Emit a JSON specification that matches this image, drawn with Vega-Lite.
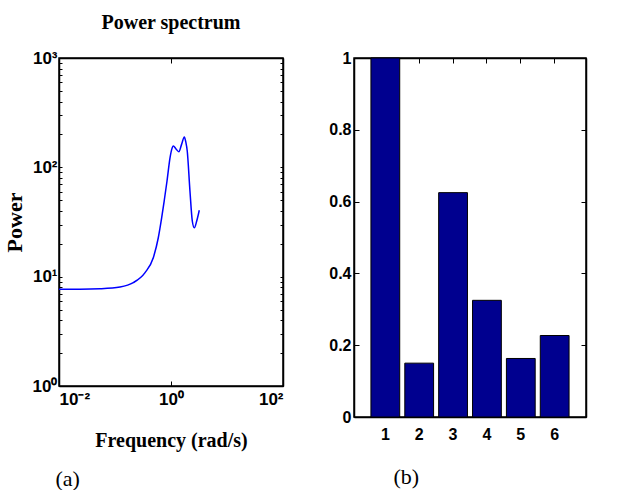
{
  "$schema": "https://vega.github.io/schema/vega-lite/v6.json",
  "background": "white",
  "padding": {"left": 2, "top": 12, "right": 0, "bottom": 0},
  "spacing": 43,
  "config": {
    "view": {"stroke": "black", "strokeWidth": 1.5},
    "axis": {
      "domainColor": "black", "domainWidth": 1.5, "tickColor": "black", "tickWidth": 1,
      "grid": false, "labelFont": "Liberation Sans", "labelFontWeight": "bold", "labelFontSize": 16,
      "labelColor": "black", "titleColor": "black"
    }
  },
  "datasets": {
    "spectrum": [
      {"f": 0.01, "P": 7.66}, {"f": 0.0237, "P": 7.67}, {"f": 0.054, "P": 7.75},
      {"f": 0.123, "P": 8.04}, {"f": 0.212, "P": 8.81}, {"f": 0.344, "P": 10.9},
      {"f": 0.483, "P": 14.9}, {"f": 0.593, "P": 22.7}, {"f": 0.682, "P": 34.6},
      {"f": 0.759, "P": 50}, {"f": 0.849, "P": 75}, {"f": 0.96, "P": 122},
      {"f": 1.03, "P": 146}, {"f": 1.10, "P": 157}, {"f": 1.22, "P": 148},
      {"f": 1.38, "P": 139}, {"f": 1.55, "P": 163}, {"f": 1.73, "P": 189},
      {"f": 1.84, "P": 170}, {"f": 1.95, "P": 141}, {"f": 2.18, "P": 60.8},
      {"f": 2.40, "P": 32.3}, {"f": 2.61, "P": 28.0}, {"f": 2.88, "P": 32.3},
      {"f": 3.20, "P": 40.5}
    ],
    "weights": [
      {"k": 1, "w": 1.0}, {"k": 2, "w": 0.150}, {"k": 3, "w": 0.625},
      {"k": 4, "w": 0.325}, {"k": 5, "w": 0.163}, {"k": 6, "w": 0.227}
    ]
  },
  "hconcat": [
    {
      "width": 224, "height": 328,
      "title": {"text": "Power spectrum", "font": "Liberation Serif", "fontSize": 20, "fontWeight": "bold", "color": "black", "offset": 16},
      "data": {"name": "spectrum"},
      "layer": [
        {
          "mark": {"type": "line", "color": "#0000ff", "strokeWidth": 1.5, "interpolate": "monotone"},
          "encoding": {
            "x": {"field": "f", "type": "quantitative",
              "scale": {"type": "log", "domain": [0.01, 100]},
              "axis": {"orient": "bottom", "values": [0.01, 1, 100], "tickSize": -5,
                "labelExpr": "datum.value < 0.1 ? '10⁻²' : datum.value < 10 ? '10⁰' : '10²'",
                "labelPadding": 10, "labelFontSize": 17,
                "title": "Frequency (rad/s)", "titleFont": "Liberation Serif", "titleFontSize": 20, "titleFontWeight": "bold", "titlePadding": 23}},
            "y": {"field": "P", "type": "quantitative",
              "scale": {"type": "log", "domain": [1, 1000]},
              "axis": {"orient": "left", "tickSize": -3,
                "values": [1,2,3,4,5,6,7,8,9,10,20,30,40,50,60,70,80,90,100,200,300,400,500,600,700,800,900,1000],
                "labelExpr": "datum.value == 1 ? '10⁰' : datum.value == 10 ? '10¹' : datum.value == 100 ? '10²' : datum.value == 1000 ? '10³' : ''",
                "labelPadding": 5, "labelFontSize": 17,
                "title": "Power", "titleFont": "Liberation Serif", "titleFontSize": 22, "titleFontWeight": "bold", "titlePadding": 6}}
          }
        },
        {
          "mark": {"type": "line", "strokeOpacity": 0},
          "encoding": {
            "x": {"field": "f", "type": "quantitative",
              "axis": {"orient": "top", "values": [0.01, 1, 100], "tickSize": -5, "labels": false, "title": null}},
            "y": {"field": "P", "type": "quantitative",
              "axis": {"orient": "right", "tickSize": -3, "labels": false, "title": null,
                "values": [1,2,3,4,5,6,7,8,9,10,20,30,40,50,60,70,80,90,100,200,300,400,500,600,700,800,900,1000]}}
          }
        },
        {
          "mark": {"type": "line", "strokeOpacity": 0},
          "encoding": {
            "x": {"field": "f", "type": "quantitative",
              "axis": {"orient": "bottom", "ticks": false, "labels": false, "domain": false,
                "title": "(a)", "titleFont": "Liberation Serif", "titleFontSize": 22, "titleFontWeight": "normal",
                "titleAnchor": "start", "titleAlign": "left", "titleX": -4, "titlePadding": 82}},
            "y": {"field": "P", "type": "quantitative", "axis": null}
          }
        }
      ],
      "resolve": {"axis": {"x": "independent", "y": "independent"}}
    },
    {
      "width": 232, "height": 359,
      "data": {"name": "weights"},
      "layer": [
        {
          "mark": {"type": "bar", "color": "#00008f", "stroke": "black", "strokeWidth": 1},
          "encoding": {
            "x": {"field": "k", "type": "ordinal",
              "scale": {"type": "band", "paddingInner": 0.15, "paddingOuter": 0.5},
              "axis": {"orient": "bottom", "tickSize": -5, "labelPadding": 14, "labelAngle": 0, "title": null}},
            "y": {"field": "w", "type": "quantitative", "scale": {"domain": [0, 1]},
              "axis": {"orient": "left", "values": [0,0.2,0.4,0.6,0.8,1], "format": "~g", "tickSize": -5, "labelPadding": 8, "title": null}}
          }
        },
        {
          "mark": {"type": "bar", "opacity": 0},
          "encoding": {
            "x": {"field": "k", "type": "ordinal",
              "axis": {"orient": "top", "tickSize": -5, "labels": false, "title": null}},
            "y": {"field": "w", "type": "quantitative",
              "axis": {"orient": "right", "values": [0,0.2,0.4,0.6,0.8,1], "tickSize": -5, "labels": false, "title": null}}
          }
        },
        {
          "mark": {"type": "bar", "opacity": 0},
          "encoding": {
            "x": {"field": "k", "type": "ordinal",
              "axis": {"orient": "bottom", "ticks": false, "labels": false, "domain": false,
                "title": "(b)", "titleFont": "Liberation Serif", "titleFontSize": 22, "titleFontWeight": "normal",
                "titleAnchor": "start", "titleAlign": "left", "titleX": 39, "titlePadding": 49}},
            "y": {"field": "w", "type": "quantitative", "axis": null}
          }
        }
      ],
      "resolve": {"axis": {"x": "independent", "y": "independent"}}
    }
  ]
}
